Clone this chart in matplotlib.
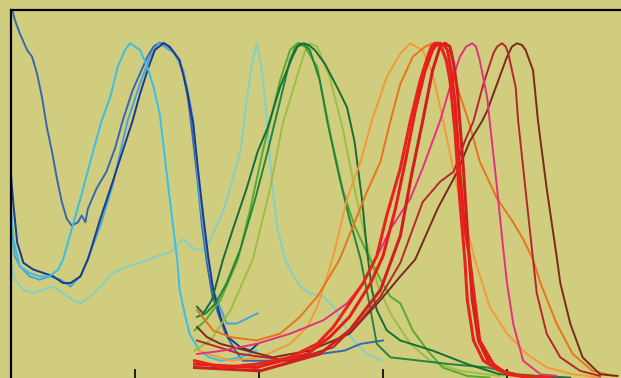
import matplotlib
matplotlib.use("Agg")
import matplotlib.pyplot as plt

# wavelength (nm) / normalised intensity
A_nm = [301, 303, 307, 313, 317, 321, 325, 329, 333, 337, 341, 345, 349, 354, 357, 360, 362, 369, 377, 384,
        390, 398, 404, 410, 415, 419, 424, 430, 435, 439, 443, 446, 450, 454, 458, 462, 467, 473, 481, 487,
        501, 525, 549, 569, 582, 600]
A_val = [1.10, 1.07, 1.03, 0.98, 0.96, 0.91, 0.84, 0.75, 0.68, 0.60, 0.53, 0.48, 0.46, 0.47, 0.49, 0.47, 0.51, 0.57, 0.62, 0.69,
         0.77, 0.86, 0.91, 0.96, 0.99, 1.00, 1.00, 0.98, 0.95, 0.91, 0.83, 0.74, 0.61, 0.46, 0.35, 0.26, 0.20, 0.14, 0.09, 0.06,
         0.06, 0.06, 0.08, 0.09, 0.11, 0.12]

B_nm = [300, 302, 305, 310, 318, 326, 334, 342, 348, 356, 362, 372, 382, 390, 398, 404, 411, 416, 423, 428,
        436, 442, 447, 451, 455, 459, 463, 469, 475, 485, 493, 499]
B_val = [0.61, 0.52, 0.41, 0.35, 0.33, 0.32, 0.31, 0.29, 0.29, 0.31, 0.36, 0.48, 0.59, 0.68, 0.77, 0.85, 0.93, 0.98, 1.00, 0.99,
         0.95, 0.86, 0.76, 0.62, 0.49, 0.37, 0.27, 0.19, 0.13, 0.10, 0.09, 0.11]

C_nm = [301, 303, 307, 315, 323, 331, 340, 348, 356, 364, 372, 382, 394, 404, 412, 419, 424, 432, 439, 444,
        447, 452, 458, 463, 474, 482, 493, 499]
C_val = [0.45, 0.37, 0.34, 0.31, 0.30, 0.31, 0.30, 0.28, 0.31, 0.38, 0.46, 0.58, 0.77, 0.88, 0.96, 1.00, 0.99, 0.97, 0.92, 0.83,
         0.77, 0.54, 0.38, 0.27, 0.17, 0.17, 0.19, 0.20]

D_nm = [300, 302, 307, 315, 323, 331, 338, 342, 349, 356, 364, 373, 380, 386, 392, 396, 400, 404, 410, 415,
        420, 427, 434, 436, 440, 444, 452, 460, 469, 485, 498]
D_val = [0.51, 0.42, 0.34, 0.32, 0.31, 0.31, 0.33, 0.36, 0.45, 0.54, 0.65, 0.77, 0.84, 0.93, 0.98, 1.00, 0.99, 0.98, 0.93, 0.87,
         0.79, 0.57, 0.36, 0.27, 0.20, 0.14, 0.09, 0.07, 0.06, 0.07, 0.09]

E_nm = [300, 303, 310, 318, 326, 334, 342, 350, 356, 364, 372, 382, 394, 404, 418, 428, 439, 448, 457, 463,
        471, 479, 485, 487, 490, 494, 498, 502, 505, 507, 511, 515, 521, 525, 533, 541, 552, 560, 568, 576,
        587, 599]
E_val = [0.35, 0.30, 0.27, 0.26, 0.27, 0.28, 0.26, 0.24, 0.23, 0.25, 0.28, 0.32, 0.34, 0.35, 0.37, 0.38, 0.42, 0.39, 0.39, 0.44,
         0.50, 0.60, 0.68, 0.74, 0.83, 0.93, 1.00, 0.93, 0.83, 0.74, 0.57, 0.45, 0.36, 0.33, 0.28, 0.26, 0.25, 0.22, 0.17, 0.12,
         0.08, 0.06]

G1_nm = [450, 455, 462, 471, 479, 490, 499, 507, 517, 527, 531, 536, 540, 545, 553, 563, 571, 577, 583, 587,
         591, 595, 603, 614, 640, 668, 694, 721, 751]
G1_val = [0.22, 0.20, 0.24, 0.36, 0.45, 0.57, 0.68, 0.75, 0.87, 0.96, 0.99, 1.00, 0.995, 0.98, 0.94, 0.87, 0.81, 0.71, 0.54, 0.39,
          0.27, 0.21, 0.15, 0.12, 0.09, 0.05, 0.02, 0.015, 0.01]

G2_nm = [450, 457, 465, 474, 485, 497, 507, 517, 525, 529, 533, 537, 541, 549, 555, 565, 573, 582, 590, 595,
         606, 630, 654, 684, 708, 743]
G2_val = [0.19, 0.20, 0.23, 0.29, 0.39, 0.54, 0.68, 0.83, 0.95, 0.985, 1.00, 0.995, 0.98, 0.89, 0.77, 0.60, 0.48, 0.36, 0.21, 0.11,
          0.07, 0.06, 0.05, 0.04, 0.02, 0.01]

G3_nm = [448, 457, 469, 483, 493, 503, 509, 517, 525, 531, 537, 547, 557, 568, 577, 587, 598, 606, 614, 624,
         636, 648, 668, 686]
G3_val = [0.15, 0.18, 0.24, 0.36, 0.51, 0.68, 0.77, 0.89, 0.98, 1.00, 0.99, 0.93, 0.74, 0.56, 0.46, 0.38, 0.30, 0.25, 0.23, 0.15,
          0.09, 0.04, 0.015, 0.01]

G4_nm = [448, 461, 477, 495, 509, 519, 533, 537, 541, 547, 557, 568, 577, 586, 596, 606, 622, 638, 662, 694]
G4_val = [0.09, 0.12, 0.21, 0.36, 0.57, 0.76, 0.93, 0.975, 1.00, 0.99, 0.90, 0.74, 0.57, 0.42, 0.28, 0.20, 0.11, 0.06, 0.03, 0.015]

O1_nm = [451, 477, 501, 525, 539, 547, 555, 560, 571, 582, 591, 603, 614, 622, 632, 640, 648, 660, 668, 674,
         686, 700, 716, 732, 753, 775]
O1_val = [0.09, 0.06, 0.07, 0.11, 0.16, 0.22, 0.31, 0.37, 0.54, 0.65, 0.77, 0.90, 0.97, 1.00, 0.98, 0.91, 0.78, 0.57, 0.45, 0.36,
          0.22, 0.14, 0.08, 0.04, 0.02, 0.01]

O2_nm = [450, 463, 477, 498, 517, 533, 547, 557, 565, 576, 587, 598, 606, 614, 624, 634, 640, 646, 658, 669,
         678, 692, 705, 713, 721, 727, 740, 753, 769, 786]
O2_val = [0.21, 0.15, 0.13, 0.12, 0.14, 0.19, 0.25, 0.31, 0.36, 0.46, 0.56, 0.65, 0.77, 0.88, 0.96, 0.99, 1.00, 0.99, 0.89, 0.77,
          0.65, 0.54, 0.47, 0.42, 0.36, 0.29, 0.17, 0.08, 0.03, 0.015]

R1_nm = [448, 471, 498, 525, 547, 560, 573, 584, 595, 603, 614, 622, 630, 636, 639, 642, 645, 648, 651, 654,
         658, 662, 666, 668, 673, 681, 694, 711, 735]
R1_val = [0.06, 0.04, 0.05, 0.07, 0.11, 0.16, 0.23, 0.29, 0.37, 0.49, 0.63, 0.77, 0.89, 0.96, 0.99, 1.00, 1.00, 0.98, 0.95, 0.89,
          0.74, 0.53, 0.36, 0.24, 0.12, 0.06, 0.03, 0.015, 0.01]

R2_nm = [448, 498, 539, 557, 573, 590, 600, 610, 618, 626, 634, 640, 643, 646, 649, 652, 655, 658, 662, 666,
         670, 674, 678, 689, 700, 719]
R2_val = [0.05, 0.04, 0.08, 0.13, 0.19, 0.29, 0.37, 0.51, 0.65, 0.80, 0.92, 0.98, 0.995, 1.00, 0.995, 0.98, 0.92, 0.83, 0.62, 0.45,
          0.36, 0.24, 0.12, 0.05, 0.02, 0.01]

R3_nm = [448, 501, 549, 573, 598, 614, 623, 632, 640, 646, 650, 654, 657, 660, 665, 669, 672, 677, 686, 702]
R3_val = [0.04, 0.03, 0.08, 0.15, 0.27, 0.43, 0.61, 0.77, 0.92, 0.99, 1.00, 0.99, 0.94, 0.86, 0.62, 0.39, 0.24, 0.12, 0.05, 0.02]

P_nm = [450, 471, 498, 525, 552, 571, 584, 598, 606, 622, 632, 646, 654, 662, 667, 672, 675, 678, 684, 686,
        692, 697, 700, 705, 713, 727, 740]
P_val = [0.08, 0.09, 0.11, 0.14, 0.18, 0.23, 0.29, 0.39, 0.45, 0.54, 0.63, 0.77, 0.87, 0.96, 0.99, 1.00, 0.99, 0.95, 0.84, 0.77,
         0.57, 0.39, 0.29, 0.17, 0.06, 0.02, 0.015]

DR_nm = [450, 485, 525, 560, 582, 598, 614, 632, 646, 657, 666, 673, 681, 689, 692, 696, 699, 701, 707, 709,
         716, 721, 724, 732, 743, 759, 775]
DR_val = [0.12, 0.08, 0.06, 0.10, 0.18, 0.25, 0.35, 0.53, 0.59, 0.62, 0.71, 0.77, 0.88, 0.97, 0.99, 1.00, 0.99, 0.97, 0.87, 0.77,
          0.53, 0.36, 0.26, 0.14, 0.07, 0.03, 0.015]

M_nm = [450, 458, 469, 490, 511, 541, 573, 598, 614, 626, 644, 660, 670, 680, 684, 692, 700, 704, 708, 712,
        715, 721, 725, 732, 740, 743, 751, 761, 775, 789]
M_val = [0.16, 0.13, 0.11, 0.09, 0.07, 0.09, 0.14, 0.24, 0.31, 0.36, 0.51, 0.62, 0.71, 0.77, 0.80, 0.88, 0.96, 0.99, 1.00, 0.995,
         0.98, 0.92, 0.77, 0.57, 0.37, 0.29, 0.17, 0.07, 0.02, 0.015]

bg = '#d0cd7e'

fig = plt.figure(figsize=(6.21, 3.78), dpi=100, facecolor=bg)
ax = fig.add_axes([11 / 621, -3 / 378, 620 / 621, 371.5 / 378])
ax.set_facecolor(bg)

# blues / teal
ax.plot(E_nm, E_val, color='#86cfc4', lw=1.4)
ax.plot(A_nm, A_val, color='#3767b1', lw=1.4)
ax.plot(C_nm, C_val, color='#4aa3d8', lw=1.4)
ax.plot(B_nm, B_val, color='#1d3a8a', lw=1.4)
ax.plot(D_nm, D_val, color='#39bde9', lw=1.4)
# greens
ax.plot(G4_nm, G4_val, color='#9dbe45', lw=1.4)
ax.plot(G3_nm, G3_val, color='#56ab2f', lw=1.4)
ax.plot(G2_nm, G2_val, color='#23843e', lw=1.4)
ax.plot(G1_nm, G1_val, color='#176d36', lw=1.4)
# oranges / reds
ax.plot(O1_nm, O1_val, color='#f49a3a', lw=1.4)
ax.plot(O2_nm, O2_val, color='#e8731f', lw=1.4)
ax.plot(M_nm, M_val, color='#7a2a1c', lw=1.4)
ax.plot(DR_nm, DR_val, color='#b3282b', lw=1.4)
ax.plot(P_nm, P_val, color='#e6317a', lw=1.4)
ax.plot(R3_nm, R3_val, color='#cf1f1f', lw=2.2)
ax.plot(R2_nm, R2_val, color='#e41f1a', lw=2.2)
ax.plot(R1_nm, R1_val, color='#e8231c', lw=2.2)

ax.set_xlim(300, 800)
ax.set_ylim(0, 1.1)
ax.set_xticks([300, 400, 500, 600, 700, 800])
ax.set_xticklabels([])
ax.set_yticks([])
ax.tick_params(axis='x', direction='in', length=9, width=1.2, color='black')
for s in ['top', 'left', 'bottom', 'right']:
    ax.spines[s].set_linewidth(1.6)
    ax.spines[s].set_color('black')

fig.savefig('out.png', dpi=100, facecolor=bg)
